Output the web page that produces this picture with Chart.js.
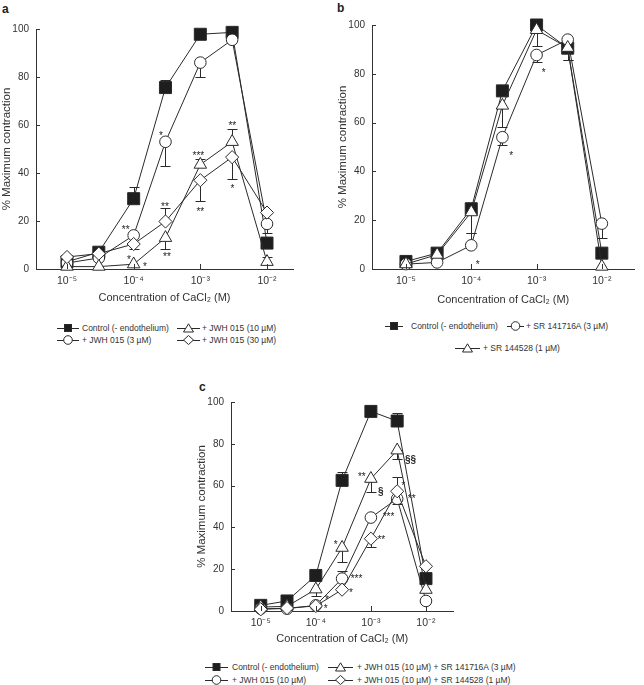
<!DOCTYPE html>
<html>
<head>
<meta charset="utf-8">
<script src="https://cdn.jsdelivr.net/npm/chart.js@4.4.0/dist/chart.umd.min.js"></script>
<style>
  body { margin: 0; background: #fff; width: 644px; height: 685px; position: relative; overflow: hidden;
         font-family: "Liberation Sans", Arial, sans-serif; color: #333; }
  canvas { position: absolute; }
  .panel { position: absolute; font-weight: bold; font-size: 12px; line-height: 12px; color: #222; }
  .leg { position: absolute; font-size: 8.5px; line-height: 10px; height: 10px; white-space: nowrap; }
  .leg svg { position: absolute; top: 0; }
</style>
</head>
<body>
<div class="panel" style="left:2px;top:3px">a</div>
<div class="panel" style="left:337px;top:2px">b</div>
<div class="panel" style="left:199px;top:381px">c</div>
<canvas id="chartA" width="320" height="309" style="left:0;top:0"></canvas>
<canvas id="chartB" width="308" height="311" style="left:336px;top:0"></canvas>
<canvas id="chartC" width="268" height="270" style="left:195px;top:380px"></canvas>
<script>
// CaCl2 concentrations (M)
const conc = [1e-5, 3e-5, 1e-4, 3e-4, 1e-3, 3e-3, 1e-2];
const decades = [-5, -4, -3, -2];
const yTicks = [0, 20, 40, 60, 80, 100];

// panel a
const aLabels = ['Control (- endothelium)', '+ JWH 015 (3 µM)', '+ JWH 015 (10 µM)', '+ JWH 015 (30 µM)'];
const aControl = [3, 7, 29.3, 75.6, 97.8, 98.6, 10.8];
const aJwh3 = [2.5, 4.6, 14, 53, 86, 95.5, 18.8];
const aJwh10 = [1, 1, 2, 13, 43.5, 53, 3];
const aJwh30 = [5, 6.4, 10.4, 19.8, 37, 46.6, 23.5];
// sem, sign gives the side the bar is drawn on
const aErrControl = [0, 0, 5, 3, 0, 0, 0];
const aErrJwh3 = [0, 0, 0, -10, -6, 0, -4];
const aErrJwh10 = [0, 0, 0, -4.5, 2.5, 5.5, 2];
const aErrJwh30 = [0, 0, -2, 5.5, -8.5, -9, 0];
const aStars = [[-3.59, 56.5, '*'], [-4.12, 17.2, '**'], [-4.07, 4.7, '*'], [-3.83, 1.7, '*'],
  [-3.53, 26.8, '**'], [-3.50, 5.8, '**'], [-3.03, 47.9, '***'], [-3.0, 24.6, '**'],
  [-2.52, 60.7, '**'], [-2.52, 34.3, '*']];

// panel b
const bLabels = ['Control (- endothelium)', '+ SR 141716A (3 µM)', '+ SR 144528 (1 µM)'];
const bControl = [3.1, 6.5, 24.7, 73, 100, 90.5, 6.5];
const bSr141 = [2, 2.7, 9.7, 54, 87.7, 94, 18.6];
const bSr144 = [2, 5.9, 23.3, 67, 98, 90.7, 1];
const bErrControl = [0, 0, 0, 0, 0, -5, 0];
const bErrSr141 = [0, 0, 5, -3, -3, 0, -6];
const bErrSr144 = [0, 0, -8.6, -9, -6.6, -5, 0];
const bStars = [[-2.89, 81.1, '*'], [-3.39, 47.1, '*'], [-3.90, 2.7, '*']];

// panel c
const cLabels = ['Control (- endothelium)', '+ JWH 015 (10 µM)',
  '+ JWH 015 (10 µM) + SR 141716A (3 µM)', '+ JWH 015 (10 µM) + SR 144528 (1 µM)'];
const cControl = [2.7, 4.8, 17, 62.5, 95.5, 90.9, 15.5];
const cJwh10 = [1.1, 1.1, 2.7, 15.5, 44.7, 53.7, 4.8];
const cSr141 = [1.9, 2.2, 10.4, 30.3, 63.3, 76.9, 10.2];
const cSr144 = [0.8, 1.4, 2.4, 10.2, 34.6, 57.3, 21.4];
const cErrControl = [0, 0, 0, 3.8, 0, 3.8, 0];
const cErrJwh10 = [0, 0, 0, 3.6, 0, -2.7, 0];
const cErrSr141 = [0, 0, -3.4, -6.9, -6.3, -4, 0];
const cErrSr144 = [0, 0, 0, 0, -4, 6.8, 0];
const cStars = [[-3.165, 65.4, '**'], [-2.28, 72.1, '§§'], [-2.82, 56.9, '§'], [-2.41, 61, '*'],
  [-2.26, 54.5, '**'], [-2.68, 46.1, '***'], [-2.81, 34.9, '**'], [-3.64, 32.5, '*'],
  [-3.26, 16.6, '***'], [-3.36, 9.9, '*'], [-3.80, 6.4, '*'], [-3.82, 1.9, '*']];

const FONT = '"Liberation Sans", Arial, sans-serif';
const INK = '#2a2a2a';
Chart.defaults.font.family = FONT;
Chart.defaults.color = '#333';

const MARK = {
  square: { pointStyle: 'rect', r: 8.5, fill: '#1e1e1e' },
  circle: { pointStyle: 'circle', r: 5.8, fill: '#fff' },
  triangle: { pointStyle: 'triangle', r: 7.2, fill: '#fff' },
  diamond: { pointStyle: 'rectRot', r: 6.6, fill: '#fff' }
};

const sup = { '-': '⁻', '0': '⁰', '1': '¹', '2': '²', '3': '³', '4': '⁴', '5': '⁵' };
const expLabel = e => '10' + String(e).split('').map(c => sup[c]).join('');

const errorBars = {
  id: 'errorBars',
  beforeDatasetsDraw(chart) {
    const ctx = chart.ctx, ys = chart.scales.y;
    ctx.save();
    ctx.strokeStyle = INK;
    ctx.lineWidth = 1;
    chart.data.datasets.forEach((ds, i) => {
      const meta = chart.getDatasetMeta(i);
      ds.err.forEach((e, j) => {
        if (!e) return;
        const p = meta.data[j];
        const yEnd = Math.round(ys.getPixelForValue(ds.data[j].y + e)) + 0.5;
        const x = Math.round(p.x) + 0.5;
        ctx.beginPath();
        ctx.moveTo(x, p.y);
        ctx.lineTo(x, yEnd);
        ctx.moveTo(x - 5, yEnd);
        ctx.lineTo(x + 5, yEnd);
        ctx.stroke();
      });
    });
    ctx.restore();
  }
};

const marks = {
  id: 'marks',
  afterDatasetsDraw(chart, args, opts) {
    const ctx = chart.ctx, xs = chart.scales.x, ys = chart.scales.y;
    ctx.save();
    ctx.strokeStyle = '#333';
    ctx.lineWidth = 1;
    // inward tick marks
    ctx.beginPath();
    decades.forEach(e => {
      const x = Math.round(xs.getPixelForValue(Math.pow(10, e))) + 0.5;
      ctx.moveTo(x, ys.bottom);
      ctx.lineTo(x, ys.bottom - 5);
    });
    yTicks.forEach(v => {
      const y = Math.round(ys.getPixelForValue(v)) + 0.5;
      ctx.moveTo(xs.left, y);
      ctx.lineTo(xs.left + 4, y);
    });
    ctx.stroke();
    // significance marks
    ctx.fillStyle = '#222';
    ctx.textAlign = 'center';
    ctx.textBaseline = 'middle';
    (opts.stars || []).forEach(([lx, v, t]) => {
      const bold = t.indexOf('§') >= 0;
      ctx.font = (bold ? 'bold 10px ' : '10px ') + FONT;
      const x = xs.getPixelForValue(Math.pow(10, lx));
      const y = ys.getPixelForValue(v) + (bold ? 0 : 2.5);
      ctx.fillText(t, x, y);
    });
    ctx.restore();
  }
};

function series(values, err, mark, idx) {
  const m = MARK[mark];
  return {
    data: values.map((v, i) => ({ x: conc[i], y: v })),
    err: err,
    order: -idx, // later series sit on top
    borderColor: INK,
    borderWidth: 1,
    pointStyle: m.pointStyle,
    pointRadius: m.r,
    pointBackgroundColor: m.fill,
    pointBorderColor: INK,
    pointBorderWidth: 1,
    clip: false
  };
}

function makeChart(id, datasets, stars, xMinExp, xMaxExp, pad, xHeight) {
  return new Chart(document.getElementById(id), {
    type: 'line',
    data: { datasets: datasets },
    plugins: [errorBars, marks],
    options: {
      responsive: false,
      animation: false,
      devicePixelRatio: 1,
      layout: { padding: pad },
      plugins: { legend: { display: false }, tooltip: { enabled: false }, marks: { stars: stars } },
      scales: {
        x: {
          type: 'logarithmic',
          min: Math.pow(10, xMinExp),
          max: Math.pow(10, xMaxExp),
          afterBuildTicks: s => { s.ticks = decades.map(e => ({ value: Math.pow(10, e) })); },
          afterFit: s => { s.height = xHeight; },
          grid: { display: false, drawTicks: false },
          border: { display: true, color: '#333', width: 1 },
          ticks: {
            autoSkip: false, maxRotation: 0, padding: 6, color: '#333',
            font: { size: 10.5 },
            callback: v => expLabel(Math.round(Math.log10(v)))
          },
          title: { display: true, text: 'Concentration of CaCl₂ (M)', font: { size: 11 }, color: '#333',
                   padding: { top: 0, bottom: 4 } }
        },
        y: {
          min: 0, max: 100,
          afterBuildTicks: s => { s.ticks = yTicks.map(v => ({ value: v })); },
          afterFit: s => { s.width = 36; },
          grid: { display: false, drawTicks: false },
          border: { display: true, color: '#333', width: 1 },
          ticks: { padding: 7, color: '#333', font: { size: 10 } },
          title: { display: true, text: '% Maximum contraction', font: { size: 11.5 }, color: '#333',
                   padding: { top: 0, bottom: 0 } }
        }
      }
    }
  });
}

makeChart('chartA', [
  series(aControl, aErrControl, 'square', 0),
  series(aJwh3, aErrJwh3, 'circle', 1),
  series(aJwh10, aErrJwh10, 'triangle', 2),
  series(aJwh30, aErrJwh30, 'diamond', 3)
], aStars, -5.465, -1.61, { top: 29, right: 27, left: 0, bottom: 0 }, 40);

makeChart('chartB', [
  series(bControl, bErrControl, 'square', 0),
  series(bSr141, bErrSr141, 'circle', 1),
  series(bSr144, bErrSr144, 'triangle', 2)
], bStars, -5.52, -1.5, { top: 25, right: 0, left: 0, bottom: 0 }, 42);

makeChart('chartC', [
  series(cControl, cErrControl, 'square', 0),
  series(cJwh10, cErrJwh10, 'circle', 1),
  series(cSr141, cErrSr141, 'triangle', 2),
  series(cSr144, cErrSr144, 'diamond', 3)
], cStars, -5.54, -1.5, { top: 22, right: 0, left: 0, bottom: 0 }, 39);

// legends
function icon(mark, w) {
  const c = w / 2;
  let shape;
  if (mark === 'square') shape = `<rect x="${c - 3.5}" y="1.5" width="7" height="7" fill="#1e1e1e" stroke="${INK}"/>`;
  else if (mark === 'circle') shape = `<circle cx="${c}" cy="5" r="4.3" fill="#fff" stroke="${INK}"/>`;
  else if (mark === 'triangle') shape = `<polygon points="${c},0.8 ${c - 5},9 ${c + 5},9" fill="#fff" stroke="${INK}"/>`;
  else shape = `<polygon points="${c - 5},5 ${c},0.5 ${c + 5},5 ${c},9.5" fill="#fff" stroke="${INK}"/>`;
  return `<svg width="${w}" height="10" style="left:0"><line x1="0" y1="5.5" x2="${w}" y2="5.5" stroke="${INK}"/>${shape}</svg>`;
}
function legendItem(text, mark, x, w, tx, cy) {
  const d = document.createElement('div');
  d.className = 'leg';
  d.style.left = x + 'px';
  d.style.top = (cy - 5) + 'px';
  d.innerHTML = icon(mark, w) + `<span style="position:absolute;left:${tx - x}px;top:0">${text}</span>`;
  document.body.appendChild(d);
}
legendItem(aLabels[0], 'square', 57, 22, 82, 328);
legendItem(aLabels[1], 'circle', 57, 22, 82, 340);
legendItem(aLabels[2], 'triangle', 177, 23, 202, 328);
legendItem(aLabels[3], 'diamond', 177, 23, 202, 340);

legendItem(bLabels[0], 'square', 385, 18, 411, 326);
legendItem(bLabels[1], 'circle', 507, 17, 526, 326);
legendItem(bLabels[2], 'triangle', 455, 25, 483, 348);

legendItem(cLabels[0], 'square', 205, 23, 232, 667);
legendItem(cLabels[1], 'circle', 205, 23, 232, 680);
legendItem(cLabels[2], 'triangle', 328, 25, 357, 667);
legendItem(cLabels[3], 'diamond', 328, 25, 357, 680);
</script>
</body>
</html>
